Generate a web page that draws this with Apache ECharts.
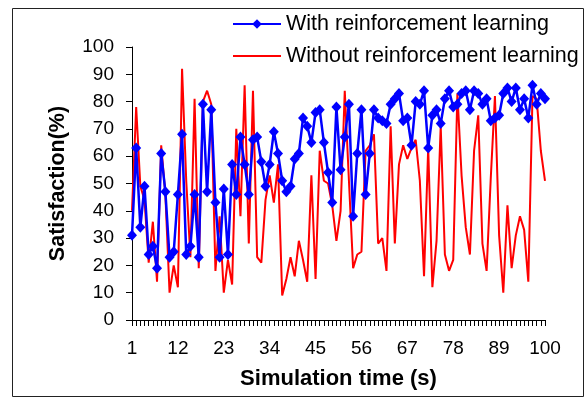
<!DOCTYPE html>
<html>
<head>
<meta charset="utf-8">
<script src="https://cdn.jsdelivr.net/npm/echarts@6/dist/echarts.min.js"></script>
<style>
html,body{margin:0;padding:0;background:#fff;}
#chart{width:588px;height:399px;}
</style>
</head>
<body>
<div id="chart"></div>
<script>
var categories = [1,2,3,4,5,6,7,8,9,10,11,12,13,14,15,16,17,18,19,20,
  21,22,23,24,25,26,27,28,29,30,31,32,33,34,35,36,37,38,39,40,
  41,42,43,44,45,46,47,48,49,50,51,52,53,54,55,56,57,58,59,60,
  61,62,63,64,65,66,67,68,69,70,71,72,73,74,75,76,77,78,79,80,
  81,82,83,84,85,86,87,88,89,90,91,92,93,94,95,96,97,98,99,100];

var withRL = [31,63,34,49,24,27,19,61,47,23,
  25,46,68,24,27,46,23,79,47,77,
  43,23,48,24,57,46,67,57,46,66,
  67,58,49,57,69,61,51,47,49,59,
  61,74,71,65,76,77,65,54,43,78,
  55,67,79,38,61,77,46,61,77,74,
  73,72,79,81,83,73,74,64,80,79,
  84,63,75,77,72,81,84,78,79,83,
  84,77,84,83,79,81,73,74,75,83,
  85,80,85,77,81,74,86,79,83,81];

var withoutRL = [40,78,49,44,21,36,14,64,46,10,
  20,12,92,51,23,81,19,80,84,79,
  18,38,10,22,13,70,38,86,28,84,
  23,21,44,53,43,57,9,15,23,16,
  29,22,14,53,15,62,51,50,42,29,
  40,84,51,19,24,25,62,64,68,28,
  30,18,71,28,57,64,59,63,66,51,
  16,63,12,29,71,24,18,22,83,53,
  34,24,62,75,28,18,52,82,31,10,
  42,19,31,38,33,14,82,81,62,51];

var yTicks = {min: 0, max: 100, interval: 10};
var seriesNames = ['With reinforcement learning', 'Without reinforcement learning'];
var xAxisTitle = 'Simulation time (s)';
var yAxisTitle = 'Satisfaction(%)';

var FONT = '"Liberation Sans", Arial, sans-serif';
var chart = echarts.init(document.getElementById('chart'), null, {renderer: 'canvas'});
chart.setOption({
  animation: false,
  backgroundColor: '#fff',
  textStyle: {fontFamily: FONT},
  graphic: [{
    type: 'rect', silent: true, z: -1,
    shape: {x: 12.5, y: 8.5, width: 571, height: 388},
    style: {fill: 'none', stroke: '#222', lineWidth: 1}
  }],
  legend: {
    orient: 'vertical',
    left: 227, top: 8,
    itemWidth: 48, itemHeight: 12, itemGap: 10,
    textStyle: {fontFamily: FONT, fontSize: 21.5, color: '#000'},
    data: [
      {name: seriesNames[0]},
      {name: seriesNames[1], itemStyle: {opacity: 0}}
    ]
  },
  grid: {left: 132, right: 43, top: 47, bottom: 79, containLabel: false},
  xAxis: {
    type: 'category',
    data: categories,
    boundaryGap: false,
    axisLine: {lineStyle: {color: '#000', width: 1}},
    axisTick: {show: true, interval: 0, length: 6, lineStyle: {color: '#000'}},
    axisLabel: {interval: 10, fontFamily: FONT, fontSize: 19, color: '#000', margin: 19},
    name: xAxisTitle,
    nameLocation: 'middle',
    nameGap: 48,
    nameTextStyle: {fontFamily: FONT, fontSize: 22, fontWeight: 'bold', color: '#000'},
    splitLine: {show: false}
  },
  yAxis: {
    type: 'value',
    min: yTicks.min, max: yTicks.max, interval: yTicks.interval,
    axisLine: {show: true, lineStyle: {color: '#000', width: 1}},
    axisTick: {show: true, length: 6, lineStyle: {color: '#000'}},
    axisLabel: {fontFamily: FONT, fontSize: 19, color: '#000', margin: 18},
    splitLine: {show: false},
    name: yAxisTitle,
    nameLocation: 'middle',
    nameGap: 63,
    nameTextStyle: {fontFamily: FONT, fontSize: 21.5, fontWeight: 'bold', color: '#000'}
  },
  series: [
    {
      name: seriesNames[1],
      type: 'line',
      data: withoutRL,
      symbol: 'none',
      lineStyle: {color: '#ff0000', width: 2},
      itemStyle: {color: '#ff0000'},
      z: 2
    },
    {
      name: seriesNames[0],
      type: 'line',
      data: withRL,
      symbol: 'diamond',
      symbolSize: [10, 11],
      showAllSymbol: true,
      lineStyle: {color: '#0000ff', width: 2.5},
      itemStyle: {color: '#0000ff'},
      z: 3
    }
  ]
});
</script>
</body>
</html>
